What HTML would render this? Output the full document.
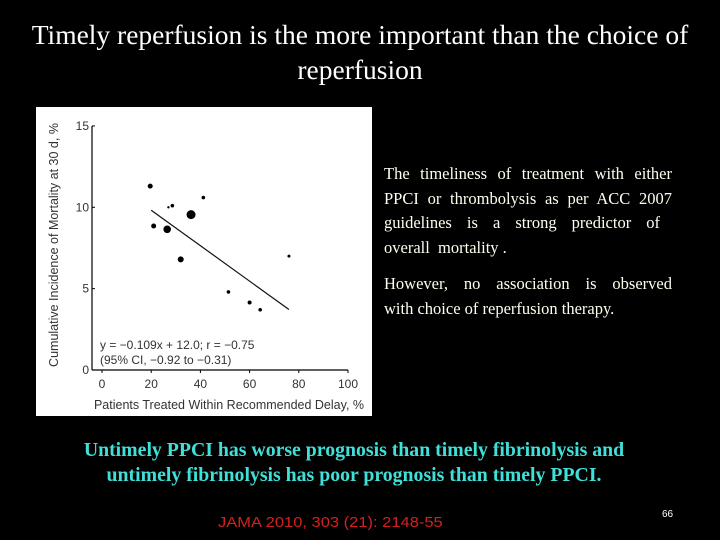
<!DOCTYPE html>
<html><head><meta charset="utf-8"><style>
body{margin:0;width:720px;height:540px;background:#000;overflow:hidden;position:relative;font-family:"Liberation Serif",serif}
.t{position:absolute;white-space:nowrap}
.j{position:absolute;text-align:justify;text-align-last:justify}
</style></head><body>
<div class="t" style="left:0;width:720px;text-align:center;top:17px;font-size:27.5px;line-height:35px;color:#fff">Timely reperfusion is the more important than the choice of<br>reperfusion</div>
<svg style="position:absolute;left:36px;top:107px" width="336" height="309" viewBox="36 107 336 309">
<rect x="36" y="107" width="336" height="309" fill="#fff"/>
<g id="g"></g>
</svg>
<div style="position:absolute;left:384px;top:162px;width:288px;font-size:16.5px;line-height:24.5px;color:#fffff0">
<div class="j" style="position:static">The timeliness of treatment with either</div>
<div class="j" style="position:static">PPCI or thrombolysis as per ACC 2007</div>
<div class="j" style="position:static;width:276px">guidelines is a strong predictor of</div>
<div style="white-space:nowrap">overall &nbsp;mortality .</div>
</div>
<div style="position:absolute;left:384px;top:272px;width:288px;font-size:16.5px;line-height:24.5px;color:#fffff0">
<div class="j" style="position:static">However, no association is observed</div>
<div style="white-space:nowrap">with choice of reperfusion therapy.</div>
</div>
<div class="t" style="left:0;width:708px;text-align:center;top:438px;font-size:19.8px;line-height:25px;font-weight:bold;color:#3fe0d8">Untimely PPCI has worse prognosis than timely fibrinolysis and<br>untimely fibrinolysis has poor prognosis than timely PPCI.</div>
<div class="t" style="left:218px;top:514px;font-family:'Liberation Sans',sans-serif;font-size:15px;color:#d42020;transform:scaleX(1.1);transform-origin:left">JAMA 2010, 303 (21): 2148-55</div>
<div class="t" style="left:662px;top:509px;font-family:'Liberation Sans',sans-serif;font-size:10px;color:#fff">66</div>
<script>
const xVals=[19.6,27,28.6,41.2,36.2,21,26.5,32,76,51.4,60,64.3];
const yVals=[11.3,10.0,10.1,10.6,9.55,8.85,8.65,6.8,7.0,4.8,4.15,3.7];
const sizes=[2.5,1.2,1.8,1.8,4.5,2.5,3.8,3,1.5,1.8,2,1.8];
const xTicks=[0,20,40,60,80,100];
const yTicks=[0,5,10,15];
const slope=-0.109, intercept=12.0, lineFrom=20, lineTo=76;
const X=v=>102+v*2.46, Y=v=>370-v*16.27;
const g=document.getElementById('g'),NS='http://www.w3.org/2000/svg';
function mk(t,a){const e=document.createElementNS(NS,t);for(const k in a)e.setAttribute(k,a[k]);g.appendChild(e);return e;}
let ax=mk('line',{x1:92,y1:Y(15),x2:92,y2:Y(0),stroke:'#000','stroke-width':1.2});

let bx=mk('line',{x1:92,y1:Y(0),x2:X(100),y2:Y(0),stroke:'#000','stroke-width':1.2});

const ff='Liberation Sans,sans-serif';
yTicks.forEach(v=>{mk('line',{x1:92,y1:Y(v),x2:95,y2:Y(v),stroke:'#000'});
 const t=mk('text',{x:89,y:Y(v)+4,'text-anchor':'end','font-family':ff,'font-size':12,fill:'#333'});t.textContent=v;
 });
xTicks.forEach(v=>{mk('line',{x1:X(v),y1:Y(0),x2:X(v),y2:Y(0)+3,stroke:'#000'});
 const t=mk('text',{x:X(v),y:388,'text-anchor':'middle','font-family':ff,'font-size':12,fill:'#333'});t.textContent=v;
 });
let xt=mk('text',{x:229,y:409,'text-anchor':'middle','font-family':ff,'font-size':12.5,fill:'#333'});xt.textContent='Patients Treated Within Recommended Delay, %';

let yt=mk('text',{x:0,y:0,'text-anchor':'middle','font-family':ff,'font-size':12.5,fill:'#333',transform:'translate(58,245) rotate(-90)'});yt.textContent='Cumulative Incidence of Mortality at 30 d, %';

let rl=mk('line',{x1:X(lineFrom),y1:Y(slope*lineFrom+intercept),x2:X(lineTo),y2:Y(slope*lineTo+intercept),stroke:'#111','stroke-width':1.2});

xVals.forEach((x,i)=>{const c=mk('circle',{cx:X(x),cy:Y(yVals[i]),r:sizes[i],fill:'#000'});
 });
let e1=mk('text',{x:100,y:349,'font-family':ff,'font-size':12,fill:'#333'});e1.textContent='y = −0.109x + 12.0; r = −0.75';

let e2=mk('text',{x:100,y:364,'font-family':ff,'font-size':12,fill:'#333'});e2.textContent='(95% CI, −0.92 to −0.31)';

</script>
</body></html>
